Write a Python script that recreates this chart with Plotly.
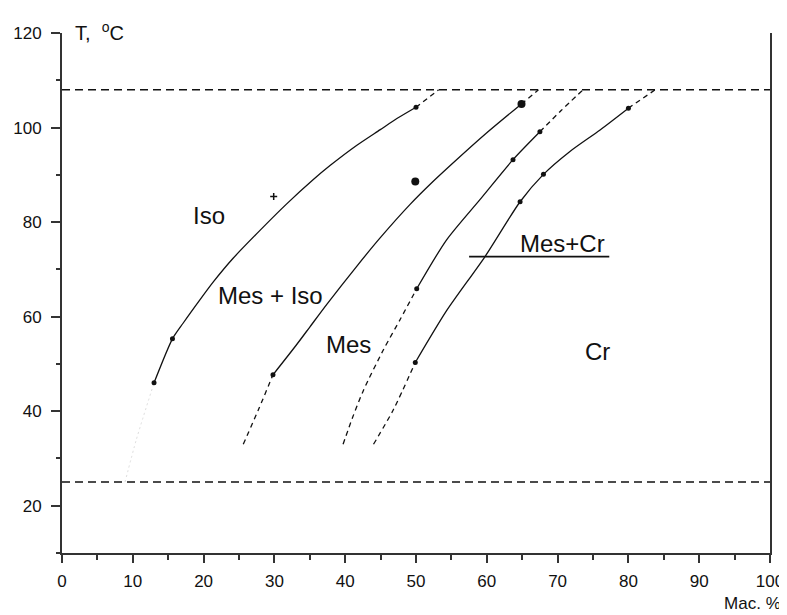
import plotly.graph_objects as go

# ---- data ----
# phase boundary curves (x = mass %, y = T, °C)
iso_x = [13.0, 15.6, 17.1, 19.5, 21.4, 24.2, 28.0, 31.7, 35.5, 37.9, 41.6, 44.9, 47.3, 50.0]
iso_y = [46.0, 55.3, 58.6, 63.6, 67.4, 72.4, 78.3, 83.8, 89.0, 92.0, 96.2, 99.5, 101.9, 104.3]
iso_dash_x = [50.0, 53.2]
iso_dash_y = [104.3, 108.0]
iso_faint_x = [8.9, 10.5, 13.0]
iso_faint_y = [25.0, 34.0, 46.0]

mi_dash_lo_x = [25.6, 27.8, 29.8]
mi_dash_lo_y = [33.0, 40.5, 47.7]
mi_x = [29.8, 33.1, 35.0, 37.4, 41.6, 44.9, 49.2, 52.0, 55.3, 60.0, 64.9]
mi_y = [47.7, 54.0, 57.8, 62.6, 70.6, 76.6, 83.8, 88.0, 92.6, 98.9, 105.0]
mi_dash_hi_x = [64.9, 67.3]
mi_dash_hi_y = [105.0, 108.0]

mes_dash_lo_x = [39.7, 41.0, 42.6, 45.4, 47.8, 50.1]
mes_dash_lo_y = [33.0, 38.5, 44.5, 53.0, 59.5, 65.9]
mes_x = [50.1, 54.3, 59.0, 63.7, 67.5]
mes_y = [65.9, 76.2, 84.7, 93.2, 99.1]
mes_dash_hi_x = [67.5, 70.5, 73.6]
mes_dash_hi_y = [99.1, 103.6, 108.0]

cr_dash_lo_x = [44.0, 46.8, 49.9]
cr_dash_lo_y = [33.0, 40.3, 50.3]
cr_x = [49.9, 54.3, 59.7, 64.7, 68.0, 71.7, 76.0, 80.0]
cr_y = [50.3, 61.2, 72.6, 84.3, 90.1, 94.9, 99.5, 104.1]
cr_dash_hi_x = [80.0, 83.8]
cr_dash_hi_y = [104.1, 108.0]

# experimental points
pts_small_x = [13.0, 15.6, 50.0, 29.8, 50.1, 63.7, 67.5, 49.9, 64.7, 68.0, 80.0]
pts_small_y = [46.0, 55.3, 104.3, 47.7, 65.9, 93.2, 99.1, 50.3, 84.3, 90.1, 104.1]
pts_big_x = [49.9, 64.9]
pts_big_y = [88.6, 105.0]
pts_cross_x = [29.9]
pts_cross_y = [85.4]

# horizontal temperature limits
t_limits = [108.0, 25.0]
x_span = [0, 100]

# region labels
label_text = ["Iso", "Mes + Iso", "Mes", "Mes+Cr", "Cr"]
label_x = [20.8, 29.4, 40.4, 70.7, 75.6]
label_y = [81.4, 64.5, 54.2, 75.4, 52.7]
underline_x = [57.5, 77.3]
underline_y = [72.7, 72.7]

x_ticks = list(range(0, 101, 10))
y_ticks = list(range(20, 121, 20))

FONT = "Liberation Sans, Arial, sans-serif"
INK = "#111111"
fig = go.Figure()

def line(x, y, dash="solid", width=1.3, color=INK, shape="spline"):
    fig.add_trace(go.Scatter(x=x, y=y, mode="lines",
                             line=dict(color=color, width=width, dash=dash, shape=shape, smoothing=0.7),
                             hoverinfo="skip", showlegend=False))

for t in t_limits:
    line(x_span, [t, t], dash="8px,5px", width=1.5, shape="linear")

line(iso_faint_x, iso_faint_y, dash="2px,3px", width=1, color="#dddddd")
line(iso_x, iso_y)
line(iso_dash_x, iso_dash_y, dash="5px,4px", shape="linear")
line(mi_dash_lo_x, mi_dash_lo_y, dash="5px,4px")
line(mi_x, mi_y)
line(mi_dash_hi_x, mi_dash_hi_y, dash="5px,4px", shape="linear")
line(mes_dash_lo_x, mes_dash_lo_y, dash="5px,4px")
line(mes_x, mes_y)
line(mes_dash_hi_x, mes_dash_hi_y, dash="5px,4px")
line(cr_dash_lo_x, cr_dash_lo_y, dash="5px,4px")
line(cr_x, cr_y)
line(cr_dash_hi_x, cr_dash_hi_y, dash="5px,4px", shape="linear")
line(underline_x, underline_y, width=1.6, shape="linear")

fig.add_trace(go.Scatter(x=pts_small_x, y=pts_small_y, mode="markers",
                         marker=dict(symbol="circle", size=5, color=INK),
                         hoverinfo="skip", showlegend=False))
fig.add_trace(go.Scatter(x=pts_big_x, y=pts_big_y, mode="markers",
                         marker=dict(symbol="circle", size=8, color=INK),
                         hoverinfo="skip", showlegend=False))
fig.add_trace(go.Scatter(x=pts_cross_x, y=pts_cross_y, mode="markers",
                         marker=dict(symbol="cross-thin", size=5, color=INK, line=dict(width=1.5, color=INK)),
                         hoverinfo="skip", showlegend=False))

for t, x, y in zip(label_text, label_x, label_y):
    fig.add_annotation(x=x, y=y, text=t, showarrow=False,
                       font=dict(family=FONT, size=24, color=INK),
                       xanchor="center", yanchor="middle")

fig.add_annotation(xref="paper", yref="y", x=0.015, y=120, text="T,  <sup>o</sup>C",
                   showarrow=False, xanchor="left", yanchor="middle",
                   font=dict(family=FONT, size=20, color=INK), yshift=2)
fig.add_annotation(xref="paper", yref="paper", x=1.018, y=-0.098, text="Мас. %",
                   showarrow=False, xanchor="right", yanchor="middle",
                   font=dict(family=FONT, size=17, color=INK))

axis_common = dict(showgrid=False, zeroline=False, showline=True, linecolor="#333333",
                   linewidth=2, ticks="outside", tickcolor="#333333", tickwidth=1.5,
                   automargin=False,
                   tickfont=dict(family=FONT, size=17, color=INK))

fig.update_xaxes(range=[0, 100], tickvals=x_ticks, ticklen=8, ticklabelstandoff=4,
                 minor=dict(dtick=5, tick0=0, ticklen=5, ticks="outside", tickcolor="#333333", tickwidth=1.5),
                 **axis_common)
fig.update_yaxes(range=[10, 120], tickvals=y_ticks, ticklen=9, mirror=True, ticklabelstandoff=6,
                 minor=dict(dtick=10, tick0=10, ticklen=4, ticks="outside", tickcolor="#333333", tickwidth=1.5),
                 **axis_common)

# page body adds an 8px offset, so the figure is 8px smaller on each side
fig.update_layout(width=779, height=607, margin=dict(l=54, r=17, t=25, b=62),
                  plot_bgcolor="white", paper_bgcolor="white", showlegend=False)

fig.write_html("out.html")
